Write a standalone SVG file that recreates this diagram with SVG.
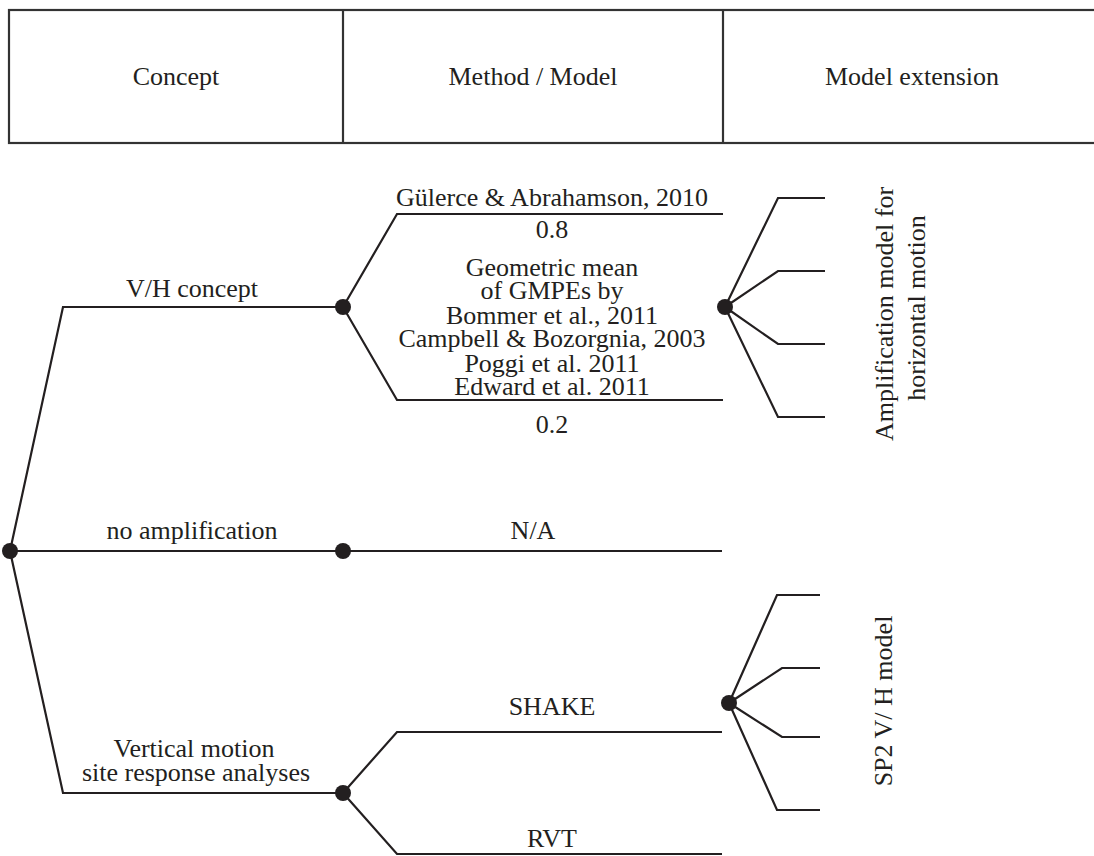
<svg xmlns="http://www.w3.org/2000/svg" width="1094" height="856" viewBox="0 0 1094 856">
  <style>
    .t { font-family: "Liberation Serif", "Times New Roman", serif; font-size: 26px; fill: #231f20; text-anchor: middle; }
    .hdr { fill: none; stroke: #333333; stroke-width: 2.2; }
    .br { fill: none; stroke: #231f20; stroke-width: 2.2; stroke-linejoin: miter; }
    .node { fill: #231f20; }
  </style>
  <rect width="1094" height="856" fill="#ffffff"/>

  <!-- header table -->
  <g id="header">
    <rect class="hdr" x="9" y="10" width="1100" height="133"/>
    <line class="hdr" x1="343" y1="10" x2="343" y2="143"/>
    <line class="hdr" x1="723" y1="10" x2="723" y2="143"/>
    <text class="t" x="176" y="85">Concept</text>
    <text class="t" x="533" y="85">Method / Model</text>
    <text class="t" x="912" y="85">Model extension</text>
  </g>

  <!-- branches of the logic tree -->
  <g id="connectors">
    <!-- root to concepts -->
    <polyline class="br" points="343,307 63,307 10,551"/>
    <line class="br" x1="10" y1="551" x2="722" y2="551"/>
    <polyline class="br" points="10,551 63,793 343,793"/>
    <!-- V/H concept methods -->
    <polyline class="br" points="343,307 397,214 723,214"/>
    <polyline class="br" points="343,307 397,400 723,400"/>
    <!-- site response methods -->
    <polyline class="br" points="343,793 397,732 722,732"/>
    <polyline class="br" points="343,793 397,854 722,854"/>
    <!-- horizontal amplification extension -->
    <polyline class="br" points="725,307 778,198 825,198"/>
    <polyline class="br" points="725,307 778,271 825,271"/>
    <polyline class="br" points="725,307 778,344 825,344"/>
    <polyline class="br" points="725,307 778,417 825,417"/>
    <!-- SP2 V/H extension -->
    <polyline class="br" points="729,703 777,595 820,595"/>
    <polyline class="br" points="729,703 782,668 820,668"/>
    <polyline class="br" points="729,703 782,737 820,737"/>
    <polyline class="br" points="729,703 777,810 820,810"/>
  </g>

  <g id="root">
    <circle class="node" cx="10" cy="551" r="8"/>
  </g>

  <g id="vh-concept">
    <circle class="node" cx="343" cy="307" r="8"/>
    <text class="t" x="192" y="297">V/H concept</text>
  </g>

  <g id="no-amplification">
    <circle class="node" cx="343" cy="551" r="8"/>
    <text class="t" x="192" y="539">no amplification</text>
  </g>

  <g id="vertical-site-response">
    <circle class="node" cx="343" cy="793" r="8"/>
    <text class="t" x="194" y="757">Vertical motion</text>
    <text class="t" x="196" y="781">site response analyses</text>
  </g>

  <g id="gulerce">
    <text class="t" x="552" y="206">Gülerce &amp; Abrahamson, 2010</text>
    <text class="t" x="552" y="238">0.8</text>
  </g>

  <g id="geometric-mean">
    <text class="t" x="552" y="276">Geometric mean</text>
    <text class="t" x="552" y="299">of GMPEs by</text>
    <text class="t" x="552" y="324">Bommer et al., 2011</text>
    <text class="t" x="552" y="347">Campbell &amp; Bozorgnia, 2003</text>
    <text class="t" x="552" y="372">Poggi et al. 2011</text>
    <text class="t" x="552" y="395">Edward et al. 2011</text>
    <text class="t" x="552" y="433">0.2</text>
  </g>

  <g id="na">
    <text class="t" x="533" y="539">N/A</text>
  </g>

  <g id="shake">
    <text class="t" x="552" y="715">SHAKE</text>
  </g>

  <g id="rvt">
    <text class="t" x="552" y="847">RVT</text>
  </g>

  <g id="amplification-horizontal">
    <circle class="node" cx="725" cy="307" r="8"/>
    <text class="t" transform="translate(893,314) rotate(-90)">Amplification model for</text>
    <text class="t" transform="translate(925,308) rotate(-90)">horizontal motion</text>
  </g>

  <g id="sp2-vh">
    <circle class="node" cx="729" cy="703" r="8"/>
    <text class="t" transform="translate(892,701) rotate(-90)">SP2 V/ H model</text>
  </g>
</svg>
